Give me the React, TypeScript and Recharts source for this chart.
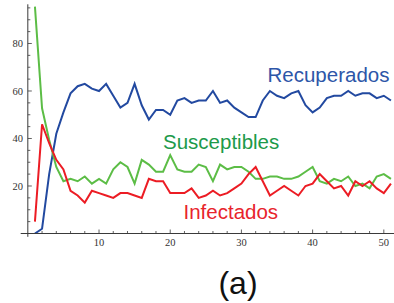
import { LineChart, Line, XAxis, YAxis, ReferenceLine } from "recharts";

const steps = [
  1, 2, 3, 4, 5, 6, 7, 8, 9, 10, 11, 12, 13, 14, 15, 16, 17, 18, 19, 20, 21, 22, 23, 24, 25, 26,
  27, 28, 29, 30, 31, 32, 33, 34, 35, 36, 37, 38, 39, 40, 41, 42, 43, 44, 45, 46, 47, 48, 49, 50, 51,
];
const recuperados = [
  0, 2, 25, 42, 51, 59, 62, 63, 61, 60, 63, 58, 53, 55, 63, 54, 48, 52, 52, 50, 56, 57, 55, 56, 56, 60,
  55, 56, 53, 51, 49, 49, 56, 60, 58, 57, 59, 60, 54, 51, 53, 57, 58, 58, 60, 58, 59, 59, 57, 58, 56,
];
const susceptibles = [
  95.5, 52.7, 39.4, 28, 22, 23, 22, 24, 21, 23, 21, 27, 30, 28, 21, 31, 29, 26, 26, 33, 27, 26, 26, 29, 28, 22,
  29, 27, 28, 28, 26, 23, 23, 24, 24, 23, 23, 24, 26, 28, 22, 21, 23, 22, 24, 20, 21, 19, 24, 25, 23,
];
const infectados = [
  5, 46, 38, 31, 27, 18, 16, 13, 18, 17, 16, 15, 17, 17, 16, 15, 23, 22, 22, 17, 17, 17, 19, 15, 16, 18,
  16, 17, 19, 21, 25, 28, 22, 16, 18, 20, 18, 16, 20, 21, 25, 22, 19, 20, 16, 22, 20, 22, 19, 17, 21,
];
const xTicks = [2, 4, 6, 8, 10, 12, 14, 16, 18, 20, 22, 24, 26, 28, 30, 32, 34, 36, 38, 40, 42, 44, 46, 48, 50];
const yTicks = [5, 10, 15, 20, 25, 30, 35, 40, 45, 50, 55, 60, 65, 70, 75, 80, 85, 90, 95];

const data = steps.map((t, i) => ({
  t,
  recuperados: recuperados[i],
  susceptibles: susceptibles[i],
  infectados: infectados[i],
}));

const AXIS = "#3a3a3a";
const TICK_FONT = "'Liberation Serif', 'DejaVu Serif', serif";
const LABEL_FONT = "'Liberation Sans', Arial, sans-serif";

function XTick(props: any) {
  const { x, y, payload } = props;
  const v = payload.value;
  const major = v % 10 === 0;
  return (
    <g>
      <line x1={x} x2={x} y1={y} y2={y - (major ? 4 : 2.5)} stroke={AXIS} strokeWidth={0.8} />
      {major && (
        <text x={x} y={y + 12} textAnchor="middle" fontFamily={TICK_FONT} fontSize={10.5} fill="#333">
          {v}
        </text>
      )}
    </g>
  );
}

function YTick(props: any) {
  const { x, y, payload } = props;
  const v = payload.value;
  const major = v % 20 === 0;
  // x=0 sits one unit right of the plot's left edge
  const ax = x + 7.12;
  return (
    <g>
      <line x1={ax} x2={ax + (major ? 4 : 2.5)} y1={y} y2={y} stroke={AXIS} strokeWidth={0.8} />
      {major && (
        <text x={ax - 4.8} y={y} dy={3.6} textAnchor="end" fontFamily={TICK_FONT} fontSize={10.5} fill="#333">
          {v}
        </text>
      )}
    </g>
  );
}

const labelStyle = {
  position: "absolute" as const,
  fontFamily: LABEL_FONT,
  fontSize: 20.5,
  lineHeight: 1,
  whiteSpace: "nowrap" as const,
};

export default function App() {
  return (
    <div style={{ position: "absolute", left: 0, top: 0, width: 394, height: 303, background: "#fff", overflow: "hidden" }}>
      <LineChart
        width={394}
        height={303}
        data={data}
        margin={{ top: 4.3, right: 0, left: 0.7, bottom: 49.5 }}
      >
        <XAxis
          type="number"
          dataKey="t"
          domain={[-1, 51.43]}
          allowDataOverflow
          ticks={xTicks}
          interval={0}
          height={20}
          tickSize={0}
          tickMargin={0}
          tickLine={false}
          axisLine={{ stroke: AXIS, strokeWidth: 1 }}
          tick={(p: any) => <XTick {...p} />}
        />
        <YAxis
          type="number"
          domain={[0, 96.5]}
          allowDataOverflow
          ticks={yTicks}
          interval={0}
          width={20}
          tickSize={0}
          tickMargin={0}
          tickLine={false}
          axisLine={false}
          tick={(p: any) => <YTick {...p} />}
        />
        <ReferenceLine
          segment={[{ x: 0, y: -1.4 }, { x: 0, y: 96.5 }]}
          ifOverflow="visible"
          stroke={AXIS}
          strokeWidth={1}
        />
        <Line type="linear" dataKey="recuperados" stroke="#2249a0" strokeWidth={2} dot={false} isAnimationActive={false} />
        <Line type="linear" dataKey="susceptibles" stroke="#5cbd46" strokeWidth={2} dot={false} isAnimationActive={false} />
        <Line type="linear" dataKey="infectados" stroke="#ec1c24" strokeWidth={2} dot={false} isAnimationActive={false} />
      </LineChart>
      <div style={{ ...labelStyle, left: 267.5, top: 65.3, color: "#2d56a8" }}>Recuperados</div>
      <div style={{ ...labelStyle, left: 163, top: 132, color: "#1d9a4a" }}>Susceptibles</div>
      <div style={{ ...labelStyle, left: 183.5, top: 202, color: "#e8242c" }}>Infectados</div>
      <div
        style={{
          position: "absolute",
          left: 188,
          top: 266.6,
          width: 100,
          textAlign: "center",
          fontFamily: LABEL_FONT,
          fontSize: 32,
          lineHeight: 1,
          color: "#111",
        }}
      >
        (a)
      </div>
    </div>
  );
}
